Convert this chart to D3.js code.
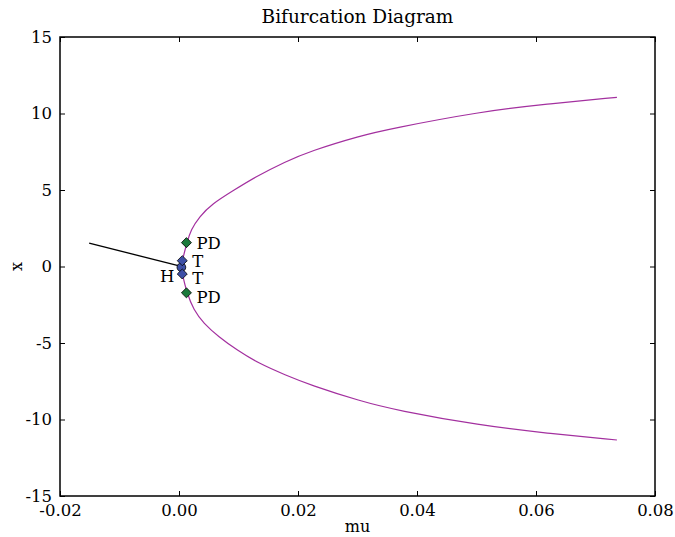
<!DOCTYPE html>
<html>
<head>
<meta charset="utf-8">
<script src="https://cdn.jsdelivr.net/npm/d3@7"></script>
<style>
  body { margin: 0; background: #fff; }
  svg text { font-family: "DejaVu Serif", serif; fill: #000; }
</style>
</head>
<body>
<svg width="675" height="537"></svg>
<script>
// equilibrium curve (mu, x), each branch starts at the tip
const upperMu = [0.00038, 0.00055, 0.00133, 0.002, 0.0034, 0.0056, 0.009, 0.0128, 0.01786, 0.0221, 0.0305, 0.0355, 0.0506, 0.0618, 0.0736];
const upperX = [-0.05, 0.38, 1.56, 2.39, 3.25, 4.1, 4.93, 5.85, 6.85, 7.55, 8.55, 9.0, 10.12, 10.62, 11.06];
const lowerMu = [0.00038, 0.00055, 0.00133, 0.00245, 0.00413, 0.00665, 0.00974, 0.01338, 0.01786, 0.0221, 0.0305, 0.0366, 0.0506, 0.0618, 0.0736];
const lowerX = [-0.05, -0.49, -1.72, -2.84, -3.71, -4.59, -5.46, -6.33, -7.09, -7.75, -8.8, -9.4, -10.38, -10.9, -11.34];

// black branch
const lineMu = [-0.0151, 0.0002];
const lineX = [1.52, 0.03];

// special points
const ptLabel = ["PD", "T", "H", "T", "PD"];
const ptMu = [0.00125, 0.00055, 0.0004, 0.00055, 0.00125];
const ptX = [1.56, 0.38, -0.05, -0.49, -1.72];

const xTicks = [-0.02, 0.00, 0.02, 0.04, 0.06, 0.08];
const yTicks = [-15, -10, -5, 0, 5, 10, 15];

const margin = { top: 37, right: 20, bottom: 41, left: 60 };
const width = 675 - margin.left - margin.right;
const height = 537 - margin.top - margin.bottom;

const svg = d3.select("svg");
const g = svg.append("g")
    .attr("transform", "translate(" + margin.left + "," + margin.top + ")");

const x = d3.scaleLinear().domain([-0.02, 0.08]).range([0, width]);
const y = d3.scaleLinear().domain([-15, 15]).range([height, 0]);

const fmtX = function (d) { return d3.format(".2f")(d).replace("\u2212", "-"); };
const fmtY = function (d) { return String(d); };

// axes, matplotlib style: ticks inside on all four sides
function styleAxis(sel) {
    sel.attr("font-family", null).attr("font-size", null);
    sel.select(".domain").remove();
    sel.selectAll(".tick line").attr("stroke", "#000").attr("stroke-width", 1);
    sel.selectAll("text").style("font-size", "16.5px").style("font-family", "'DejaVu Serif', serif");
}
g.append("g")
    .attr("transform", "translate(0," + height + ")")
    .call(d3.axisBottom(x).tickValues(xTicks).tickFormat(fmtX).tickSizeInner(-5).tickPadding(8))
    .call(styleAxis);
g.append("g")
    .call(d3.axisTop(x).tickValues(xTicks).tickFormat("").tickSizeInner(-5))
    .call(styleAxis);
g.append("g")
    .call(d3.axisLeft(y).tickValues(yTicks).tickFormat(fmtY).tickSizeInner(-5).tickPadding(8))
    .call(styleAxis);
g.append("g")
    .attr("transform", "translate(" + width + ",0)")
    .call(d3.axisRight(y).tickValues(yTicks).tickFormat("").tickSizeInner(-5))
    .call(styleAxis);

g.append("rect")
    .attr("width", width).attr("height", height)
    .attr("fill", "none").attr("stroke", "#000").attr("stroke-width", 1.5);

// one path: lower branch reversed, then upper branch (tip shared)
const curvePts = lowerMu.map(function (m, i) { return [m, lowerX[i]]; }).reverse()
    .concat(upperMu.slice(1).map(function (m, i) { return [m, upperX[i + 1]]; }));

g.append("path")
    .datum(curvePts)
    .attr("fill", "none")
    .attr("stroke", "#a3309f")
    .attr("stroke-width", 1.2)
    .attr("d", d3.line()
        .x(function (d) { return x(d[0]); })
        .y(function (d) { return y(d[1]); })
        .curve(d3.curveBasis));

g.append("path")
    .datum(lineMu.map(function (m, i) { return [m, lineX[i]]; }))
    .attr("fill", "none")
    .attr("stroke", "#000")
    .attr("stroke-width", 1.3)
    .attr("d", d3.line().x(function (d) { return x(d[0]); }).y(function (d) { return y(d[1]); }));

const pts = ptLabel.map(function (l, i) { return { label: l, mu: ptMu[i], x: ptX[i] }; });
const diamond = d3.symbol().type(d3.symbolDiamond2).size(64);
const dot = d3.symbol().type(d3.symbolCircle).size(60);

// H drawn first so the T diamonds sit on top of it
g.selectAll(".pt")
    .data(pts.slice().sort(function (a, b) { return (a.label === "H" ? 0 : 1) - (b.label === "H" ? 0 : 1); }))
    .join("path")
    .attr("class", "pt")
    .attr("transform", function (d) { return "translate(" + x(d.mu) + "," + y(d.x) + ")"; })
    .attr("d", function (d) { return d.label === "H" ? dot() : diamond(); })
    .attr("fill", function (d) { return d.label === "PD" ? "#1c7a3c" : "#3d4fa6"; })
    .attr("stroke", "#000")
    .attr("stroke-width", 0.8);

g.selectAll(".ptlabel")
    .data(pts)
    .join("text")
    .attr("class", "ptlabel")
    .attr("x", function (d) { return x(d.mu) + (d.label === "H" ? -7 : 10); })
    .attr("y", function (d) { return y(d.x) + (d.label === "H" ? 15 : (d.x < 0 ? 10 : 6)); })
    .attr("text-anchor", function (d) { return d.label === "H" ? "end" : "start"; })
    .style("font-size", "16.5px")
    .text(function (d) { return d.label; });

svg.append("text")
    .attr("x", margin.left + width / 2).attr("y", 23)
    .attr("text-anchor", "middle")
    .style("font-size", "18.5px")
    .text("Bifurcation Diagram");

svg.append("text")
    .attr("x", margin.left + width / 2).attr("y", 532)
    .attr("text-anchor", "middle")
    .style("font-size", "16px")
    .text("mu");

svg.append("text")
    .attr("transform", "translate(22," + (margin.top + height / 2) + ") rotate(-90)")
    .attr("text-anchor", "middle")
    .style("font-size", "16px")
    .text("x");
</script>
</body>
</html>
